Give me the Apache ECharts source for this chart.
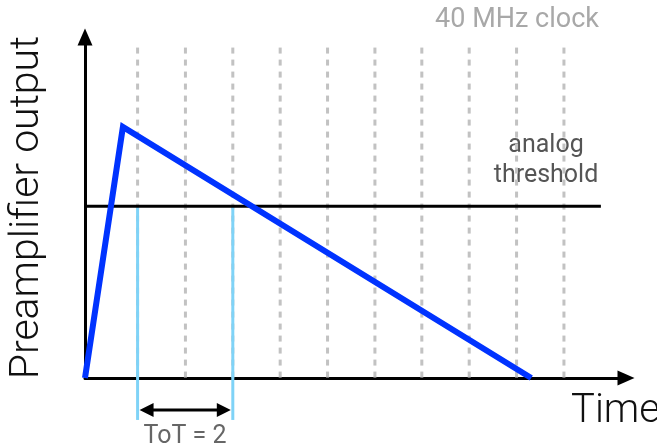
<!DOCTYPE html>
<html><head><meta charset="utf-8">
<script src="https://cdn.jsdelivr.net/npm/echarts@6/dist/echarts.min.js"></script>
<style>html,body{margin:0;padding:0;background:#fff}#c{width:657px;height:448px}</style>
</head><body><div id="c"></div>
<script>
// x in clock periods (origin = start of the pulse), y in relative amplitude
const clockTicks = [1.11, 2.12, 3.12, 4.12, 5.12, 6.12, 7.11, 8.11, 9.11, 10.11];
const clockTop = 0.969;
const signal = [[0, 0], [0.80, 0.736], [9.42, 0]];
const threshold = 0.504;
const thresholdEnd = 10.89;
const totEdges = [1.11, 3.12];
const totBottom = -0.123;
const totArrowY = -0.094;
const xMax = 11.42;
const yMax = 1;
const yTitle = 'Preamplifier output';
const xTitle = 'Time';
const clockLabel = '40 MHz clock';
const thresholdLabel = 'analog\nthreshold';
const totLabel = 'ToT = 2';

const FONT = 'Roboto, "Liberation Sans", sans-serif';
const chart = echarts.init(document.getElementById('c'), null, {renderer: 'canvas'});

const option = {
  animation: false,
  backgroundColor: '#fff',
  grid: {left: 85, right: 31, top: 37, bottom: 70, containLabel: false, outerBoundsMode: 'none'},
  xAxis: {
    type: 'value', min: 0, max: xMax,
    axisLine: {show: true, onZero: false, symbol: ['none', 'triangle'], symbolSize: [15, 17],
      lineStyle: {color: '#000', width: 3}},
    axisTick: {show: false}, axisLabel: {show: false}, splitLine: {show: false}
  },
  yAxis: {
    type: 'value', min: 0, max: yMax,
    name: yTitle, nameLocation: 'middle', nameGap: 37, nameRotate: 90,
    nameTextStyle: {fontSize: 41, fontWeight: 300, color: '#111', fontFamily: FONT},
    axisLine: {show: true, symbol: ['none', 'triangle'], symbolSize: [15, 17],
      lineStyle: {color: '#000', width: 3}},
    axisTick: {show: false}, axisLabel: {show: false}, splitLine: {show: false}
  },
  series: [
    {
      type: 'custom', z: 1, clip: false,
      data: clockTicks.map(t => [t, clockTop]),
      renderItem: (params, api) => {
        const top = api.coord([api.value(0), api.value(1)]);
        const bot = api.coord([api.value(0), 0]);
        return {type: 'line', shape: {x1: top[0], y1: top[1], x2: bot[0], y2: bot[1]},
          style: {stroke: '#c2c2c2', lineWidth: 3, lineDash: [6, 6]}};
      }
    },
    {
      type: 'custom', z: 2, clip: false,
      data: totEdges.map(t => [t, threshold, totBottom]),
      renderItem: (params, api) => {
        const a = api.coord([api.value(0), api.value(1)]);
        const b = api.coord([api.value(0), api.value(2)]);
        return {type: 'line', shape: {x1: a[0], y1: a[1], x2: b[0], y2: b[1]},
          style: {stroke: '#7fd3f7', lineWidth: 3}};
      }
    },
    {
      type: 'custom', z: 3, clip: false,
      data: [[totEdges[0], totEdges[1], totArrowY]],
      renderItem: (params, api) => {
        const l = api.coord([api.value(0), api.value(2)]);
        const r = api.coord([api.value(1), api.value(2)]);
        const x1 = l[0] + 2, x2 = r[0] - 2, y = l[1];
        const hl = 14, hh = 7;
        return {type: 'group', children: [
          {type: 'line', shape: {x1: x1 + 6, y1: y, x2: x2 - 6, y2: y}, style: {stroke: '#000', lineWidth: 3}},
          {type: 'polygon', shape: {points: [[x1, y], [x1 + hl, y - hh], [x1 + hl, y + hh]]}, style: {fill: '#000'}},
          {type: 'polygon', shape: {points: [[x2, y], [x2 - hl, y - hh], [x2 - hl, y + hh]]}, style: {fill: '#000'}}
        ]};
      }
    },
    {
      type: 'line', z: 4, symbol: 'none',
      data: [[0, threshold], [thresholdEnd, threshold]],
      lineStyle: {color: '#000', width: 3}
    },
    {
      type: 'line', z: 5, symbol: 'none',
      data: signal,
      lineStyle: {color: '#0033ff', width: 6, cap: 'butt', join: 'miter'}
    }
  ],
  graphic: [
    {type: 'text', x: 571, y: 412, style: {text: xTitle, fontSize: 40, fontWeight: 300, fill: '#111',
      fontFamily: FONT, align: 'left', verticalAlign: 'middle'}},
    {type: 'text', x: 599, y: 20, style: {text: clockLabel, fontSize: 27, fontWeight: 400, fill: '#a8a8a8',
      fontFamily: FONT, align: 'right', verticalAlign: 'middle'}},
    {type: 'text', x: 546, y: 161, style: {text: thresholdLabel, fontSize: 25, fontWeight: 400, fill: '#555',
      fontFamily: FONT, align: 'center', verticalAlign: 'middle', lineHeight: 30}},
    {type: 'text', x: 185, y: 437, style: {text: totLabel, fontSize: 25, fontWeight: 400, fill: '#666',
      fontFamily: FONT, align: 'center', verticalAlign: 'middle'}}
  ]
};
chart.setOption(option);
</script></body></html>
